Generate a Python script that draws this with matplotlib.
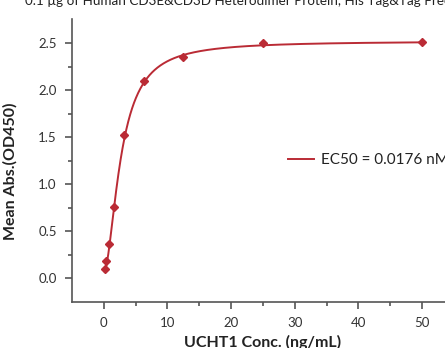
import numpy as np
import matplotlib
matplotlib.use('Agg')
import matplotlib.pyplot as plt

plt.rcParams['font.family'] = ['Lato', 'DejaVu Sans']

# data
conc = [0.195, 0.39, 0.78, 1.5625, 3.125, 6.25, 12.5, 25, 50]
od450 = [0.096, 0.184, 0.365, 0.76, 1.52, 2.096, 2.354, 2.50, 2.51]

# 4PL fit parameters (estimated from the drawn curve)
fitBottom, fitTop, fitEC50, fitHill = 0.06, 2.52, 2.7, 1.8
legendText = 'EC50 = 0.0176 nM'
titleText = '0.1 µg of Human CD3E&CD3D Heterodimer Protein, His Tag&Tag Free'

red = '#BA2B35'
grey = '#555555'

def fourPL(x):
    return fitBottom + (fitTop - fitBottom) / (1. + (fitEC50 / x)**fitHill)

fig = plt.figure(figsize=(4.45, 3.48), dpi=100)
ax = fig.add_axes([0.1618, 0.1322, 0.8584, 0.8118])

xx = np.linspace(0.15, 50, 1000)
ax.plot(xx, fourPL(xx), '-', color=red, lw=1.4, label=legendText)
ax.plot(conc, od450, 'D', color=red, ms=4.5, mec=red)

ax.set_xlim(-5, 55)
ax.set_ylim(-0.25, 2.75)
ax.set_xticks([0, 10, 20, 30, 40, 50])
ax.set_xticks([5, 15, 25, 35, 45], minor=True)
ax.set_yticks([0.0, 0.5, 1.0, 1.5, 2.0, 2.5])
ax.set_yticks([0.25, 0.75, 1.25, 1.75, 2.25], minor=True)
ax.set_yticklabels(['0.0', '0.5', '1.0', '1.5', '2.0', '2.5'])

for s in ['top', 'right']:
    ax.spines[s].set_visible(False)
for s in ['left', 'bottom']:
    ax.spines[s].set_color(grey)
    ax.spines[s].set_linewidth(1.2)
ax.tick_params(which='major', direction='out', length=5, width=1.2, color=grey,
               labelsize=9.5, labelcolor='#333333', pad=6)
ax.tick_params(which='minor', direction='out', length=3, width=1.2, color=grey)

ax.set_xlabel('UCHT1 Conc. (ng/mL)', fontsize=11.5, fontweight='bold', color='#222222')
ax.set_ylabel('Mean Abs.(OD450)', fontsize=11.5, fontweight='bold', color='#222222')
ax.xaxis.set_label_coords(0.5, -0.118)
ax.yaxis.set_label_coords(-0.142, 0.464)

ax.legend(loc='center left', bbox_to_anchor=(0.565, 0.503), frameon=False,
          borderpad=0, borderaxespad=0, handlelength=1.7, handletextpad=0.45,
          fontsize=11, labelcolor='#222222')

fig.text(25/445, 1 - 5/348, titleText, fontsize=9.7, color='#222222',
         ha='left', va='baseline')

fig.savefig('out.png', dpi=100)
